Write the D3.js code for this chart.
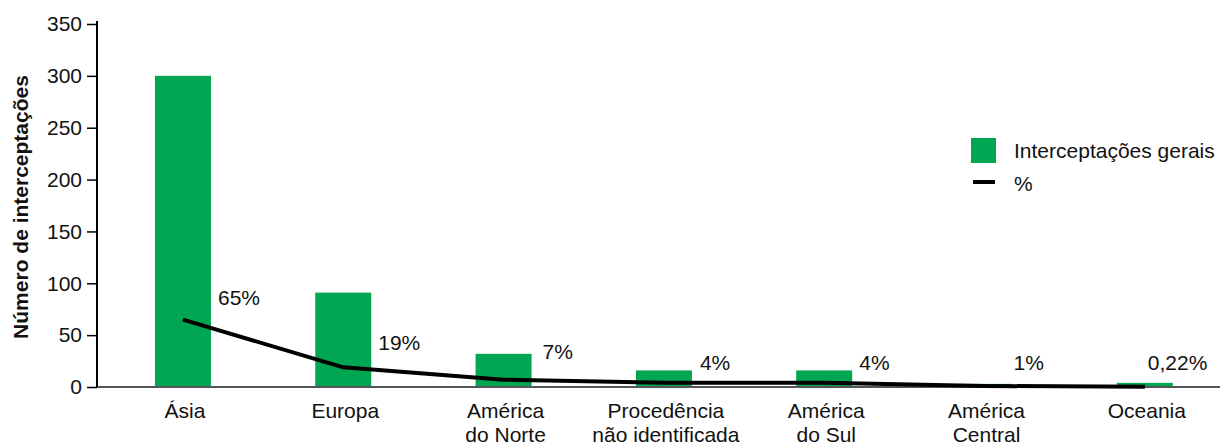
<!DOCTYPE html>
<html><head><meta charset="utf-8">
<script src="https://cdn.jsdelivr.net/npm/d3@7"></script>
<style>body{margin:0;background:#fff}svg{display:block;font-family:"Liberation Sans",Arial,sans-serif}</style>
</head><body>
<svg id="c" width="1220" height="443"></svg>
<script>
const categories = [["Ásia"],["Europa"],["América","do Norte"],["Procedência","não identificada"],["América","do Sul"],["América","Central"],["Oceania"]];
const interceptacoes = [300, 91, 32, 16, 16, 3, 4];
const percentValues = [65, 19, 7, 4, 4, 1, 0.22];
const percentLabels = ["65%","19%","7%","4%","4%","1%","0,22%"];
const yTicks = [0,50,100,150,200,250,300,350];
// label placement (style): dx from band center, baseline y in px
const labelDx = [35, 35, 39, 36, 35, 29, 3];
const labelBaseline = [305, 350, 359, 370, 370, 370, 370];

const green = "#00a651";
const svg = d3.select("#c");
const keys = categories.map((c,i)=>i);
const x = d3.scaleBand().domain(keys).range([102.8, 1225]).paddingInner(0).paddingOuter(0);
const y = d3.scaleLinear().domain([0,350]).range([387, 24]);
const bw = 56;
const cx = i => x(i) + x.bandwidth()/2;

// bars
svg.append("g").selectAll("rect").data(interceptacoes).join("rect")
  .attr("x",(d,i)=>cx(i)-bw/2).attr("width",bw)
  .attr("y",d=>y(d)).attr("height",d=>y(0)-y(d)).attr("fill",green);

// x axis line
svg.append("line").attr("x1",97).attr("x2",1220).attr("y1",y(0)).attr("y2",y(0))
  .attr("stroke","#555").attr("stroke-width",2);

// y axis
const ya = svg.append("g").attr("transform","translate(97,0)")
  .call(d3.axisLeft(y).tickValues(yTicks).tickSize(10).tickPadding(5).tickFormat(d3.format("d")));
ya.select(".domain").attr("stroke","#000").attr("stroke-width",2).attr("d","M0,21V"+y(0));
ya.selectAll(".tick line").attr("stroke","#000").attr("stroke-width",1.5);
ya.selectAll(".tick text").attr("font-size",21).attr("fill","#111").attr("font-family","Liberation Sans, Arial, sans-serif");

// percentage line
svg.append("path").datum(percentValues)
  .attr("d", d3.line().x((d,i)=>cx(i)).y(d=>y(d)))
  .attr("fill","none").attr("stroke","#000").attr("stroke-width",4).attr("stroke-linejoin","round");

// percent labels
svg.append("g").selectAll("text").data(percentLabels).join("text")
  .attr("x",(d,i)=>cx(i)+labelDx[i]).attr("y",(d,i)=>labelBaseline[i])
  .attr("font-size",21).attr("fill","#111").text(d=>d);

// category labels
const cl = svg.append("g").selectAll("text").data(categories).join("text")
  .attr("text-anchor","middle").attr("font-size",21).attr("fill","#111")
  .attr("transform",(d,i)=>`translate(${cx(i)+2},418)`);
cl.selectAll("tspan").data(d=>d).join("tspan").attr("x",0).attr("dy",(d,j)=>j?23.5:0).text(d=>d);

// y title
svg.append("text").attr("transform","translate(28,207) rotate(-90)")
  .attr("text-anchor","middle").attr("font-size",21).attr("font-weight","bold").attr("fill","#111")
  .text("Número de interceptações");

// legend
const lg = svg.append("g");
lg.append("rect").attr("x",971).attr("y",138).attr("width",25).attr("height",25).attr("fill",green);
lg.append("text").attr("x",1014).attr("y",158).attr("font-size",21).attr("fill","#111").text("Interceptações gerais");
lg.append("line").attr("x1",973).attr("x2",995).attr("y1",182).attr("y2",182).attr("stroke","#000").attr("stroke-width",4);
lg.append("text").attr("x",1014).attr("y",191).attr("font-size",21).attr("fill","#111").text("%");
</script>
</body></html>
